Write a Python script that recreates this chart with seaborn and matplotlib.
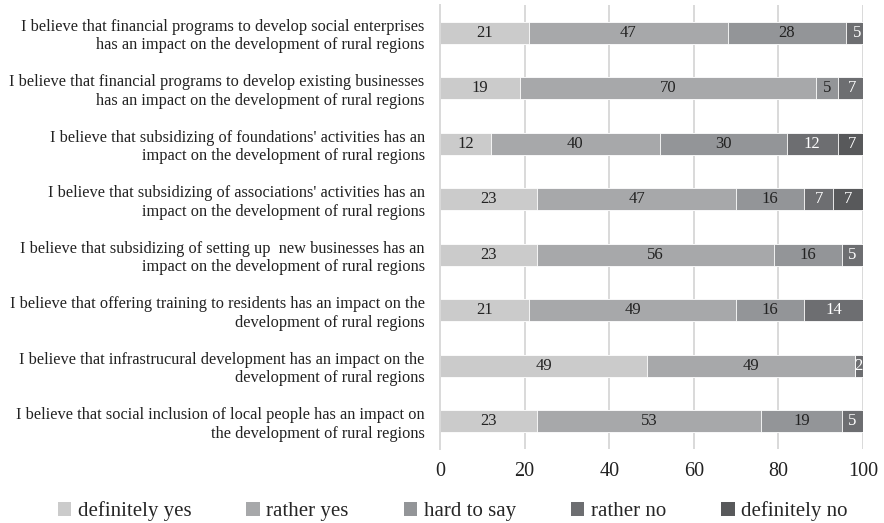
import matplotlib
matplotlib.use("Agg")
import matplotlib.pyplot as plt
import seaborn as sns
import numpy as np
import pandas as pd
from matplotlib.patches import Patch

statements = [
    "I believe that financial programs to develop social enterprises\nhas an impact on the development of rural regions",
    "I believe that financial programs to develop existing businesses\nhas an impact on the development of rural regions",
    "I believe that subsidizing of foundations' activities has an\nimpact on the development of rural regions",
    "I believe that subsidizing of associations' activities has an\nimpact on the development of rural regions",
    "I believe that subsidizing of setting up  new businesses has an\nimpact on the development of rural regions",
    "I believe that offering training to residents has an impact on the\ndevelopment of rural regions",
    "I believe that infrastrucural development has an impact on the\ndevelopment of rural regions",
    "I believe that social inclusion of local people has an impact on\nthe development of rural regions",
]
categories = ["definitely yes", "rather yes", "hard to say", "rather no", "definitely no"]
definitely_yes = [21, 19, 12, 23, 23, 21, 49, 23]
rather_yes     = [47, 70, 40, 47, 56, 49, 49, 53]
hard_to_say    = [28, 5, 30, 16, 16, 16, 0, 19]
rather_no      = [5, 7, 12, 7, 5, 14, 2, 5]
definitely_no  = [0, 0, 7, 7, 0, 0, 0, 0]

colors = ["#cbcbcb", "#a7a8aa", "#939598", "#6d6e71", "#58595b"]
text_colors = ["#222222", "#222222", "#222222", "#ffffff", "#ffffff"]

series = [definitely_yes, rather_yes, hard_to_say, rather_no, definitely_no]
vals = np.array(series, dtype=float)
cum = np.cumsum(vals, axis=0)

df = pd.DataFrame({"statement": statements})
for i, c in enumerate(categories):
    df[c] = vals[i]
    df["cum_" + c] = cum[i]

sns.set_theme(style="white")
plt.rcParams["font.family"] = ["Liberation Serif", "DejaVu Serif"]

fig = plt.figure(figsize=(8.84, 5.23), dpi=100)
ax = fig.add_axes([440 / 884, 1 - 449 / 523, 423 / 884, 444 / 523])

for x in [20, 40, 60, 80, 100]:
    ax.axvline(x, color="#d9d9d9", lw=1.4, zorder=0)

for i in reversed(range(len(categories))):
    c = categories[i]
    sns.barplot(data=df, x="cum_" + c, y="statement", orient="h", color=colors[i],
                width=0.4, saturation=1, edgecolor="white", linewidth=0.6, ax=ax, zorder=2)

for r in range(len(statements)):
    for i in range(len(categories)):
        v = vals[i, r]
        if v <= 0:
            continue
        center = cum[i, r] - v / 2
        ax.text(center, r, f"{int(v)}", ha="center", va="center", fontsize=12,
                color=text_colors[i], zorder=5)

ax.set_xlim(0, 100)
ax.set_ylim(len(statements) - 0.5, -0.5)
ax.set_xticks([0, 20, 40, 60, 80, 100])
ax.set_xlabel("")
ax.set_ylabel("")
ax.tick_params(axis="x", labelsize=14.5, pad=9, length=0, colors="#222222")
ax.tick_params(axis="y", labelsize=11.8, pad=11, length=0, colors="#222222")
for s in ["top", "right", "bottom"]:
    ax.spines[s].set_visible(False)
ax.spines["left"].set_color("#d9d9d9")
ax.spines["left"].set_linewidth(1.4)

handles = [Patch(facecolor=colors[i], edgecolor="none", label=categories[i]) for i in range(len(categories))]
fig.legend(handles=handles, loc="center", bbox_to_anchor=(0.512, 0.023), ncol=5, frameon=False,
           fontsize=15, handlelength=0.65, handleheight=0.65, handletextpad=0.3, columnspacing=2.65)

fig.savefig("out.png", dpi=100)
